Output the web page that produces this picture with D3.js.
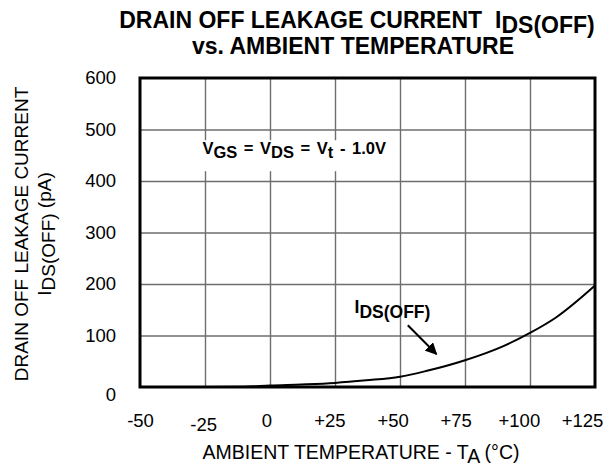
<!DOCTYPE html>
<html>
<head>
<meta charset="utf-8">
<script src="https://cdn.jsdelivr.net/npm/d3@7"></script>
<style>
body { margin: 0; background: #fff; }
text { font-family: "Liberation Sans", Arial, Helvetica, sans-serif; fill: #000; }
</style>
</head>
<body>
<svg id="chart" width="611" height="468"></svg>
<script>
// curve: temperature (°C) vs IDS(OFF) (pA)
var temps   = [-50, -25, -10, 0, 12, 25, 37, 50, 60, 75, 90, 100, 110, 125];
var leakage = [0, 0, 0.3, 3, 5, 8, 13, 20, 31, 52, 80, 105, 135, 197];

var xTicks = [-50, -25, 0, 25, 50, 75, 100, 125];
var xTickLabels = ["-50", "-25", "0", "+25", "+50", "+75", "+100", "+125"];
var yTicks = [0, 100, 200, 300, 400, 500, 600];

// annotation anchors, in data units
var arrowFrom = [53, 120];
var arrowTo = [64, 64];
var curveLabelAt = [32.5, 144];
var condLabelAt = [-26, 452];

var svg = d3.select("#chart");

var x = d3.scaleLinear().domain([-50, 125]).range([140, 595]);
var y = d3.scaleLinear().domain([0, 600]).range([387, 78]);
// the printed tick labels sit a bit tighter than the grid
var xLabel = d3.scaleLinear().domain([-50, 125]).range([140, 582]);

// grid
svg.append("g")
    .attr("transform", "translate(0,387)")
    .call(d3.axisBottom(x).tickValues(xTicks.slice(1, -1)).tickSize(-309).tickFormat(""))
    .call(function (g) {
        g.select(".domain").remove();
        g.selectAll("line").attr("stroke", "#6e6e6e").attr("stroke-width", 1.4);
    });

svg.append("g")
    .attr("transform", "translate(140,0)")
    .call(d3.axisLeft(y).tickValues(yTicks.slice(1, -1)).tickSize(-455).tickFormat(""))
    .call(function (g) {
        g.select(".domain").remove();
        g.selectAll("line").attr("stroke", "#6e6e6e").attr("stroke-width", 1.4);
    });

// tick labels
svg.append("g")
    .attr("transform", "translate(0,387)")
    .call(d3.axisBottom(xLabel).tickValues(xTicks).tickSize(0).tickPadding(27)
        .tickFormat(function (d, i) { return xTickLabels[i]; }))
    .call(function (g) {
        g.select(".domain").remove();
        g.selectAll("text").attr("font-size", 18.5).attr("fill", "#000")
            .attr("font-family", "Liberation Sans, Arial, sans-serif")
            .attr("dy", function (d) { return d === -25 ? "0.93em" : "0.71em"; });
    });

svg.append("g")
    .attr("transform", "translate(140,0)")
    .call(d3.axisLeft(y).tickValues(yTicks).tickSize(0).tickPadding(24))
    .call(function (g) {
        g.select(".domain").remove();
        g.selectAll("text").attr("font-size", 18.5).attr("fill", "#000")
            .attr("font-family", "Liberation Sans, Arial, sans-serif")
            .attr("dy", function (d) { return d === 0 ? "0.75em" : "0.32em"; });
    });

// white patch behind the condition text
svg.append("rect")
    .attr("x", x(condLabelAt[0]) - 1).attr("y", y(condLabelAt[1]) - 14)
    .attr("width", 191).attr("height", 31)
    .attr("fill", "#fff");

// curve
var line = d3.line()
    .x(function (d) { return x(d[0]); })
    .y(function (d) { return y(d[1]); })
    .curve(d3.curveMonotoneX);

svg.append("path")
    .datum(d3.zip(temps, leakage))
    .attr("d", line)
    .attr("fill", "none")
    .attr("stroke", "#000")
    .attr("stroke-width", 2);

// frame
svg.append("rect")
    .attr("x", x(-50)).attr("y", y(600))
    .attr("width", x(125) - x(-50)).attr("height", y(0) - y(600))
    .attr("fill", "none").attr("stroke", "#000").attr("stroke-width", 3);

// arrow
svg.append("defs").append("marker")
    .attr("id", "head")
    .attr("viewBox", "0 0 10 10")
    .attr("refX", 9).attr("refY", 5)
    .attr("markerWidth", 6).attr("markerHeight", 6)
    .attr("markerUnits", "strokeWidth")
    .attr("orient", "auto")
    .append("path").attr("d", "M0,0L10,5L0,10Z").attr("fill", "#000");

svg.append("line")
    .attr("x1", x(arrowFrom[0])).attr("y1", y(arrowFrom[1]))
    .attr("x2", x(arrowTo[0])).attr("y2", y(arrowTo[1]))
    .attr("stroke", "#000").attr("stroke-width", 2)
    .attr("marker-end", "url(#head)");

// curve label
var cl = svg.append("text")
    .attr("x", x(curveLabelAt[0])).attr("y", y(curveLabelAt[1]))
    .attr("font-size", 17.5).attr("font-weight", "bold");
cl.append("tspan").text("I");
cl.append("tspan").attr("dy", 5).text("DS(OFF)");

// condition label
var ct = svg.append("text")
    .attr("x", x(condLabelAt[0])).attr("y", y(condLabelAt[1]))
    .attr("font-size", 16.5).attr("font-weight", "bold")
    .attr("word-spacing", 2);
ct.append("tspan").text("V");
ct.append("tspan").attr("dy", 4).text("GS");
ct.append("tspan").attr("dy", -4).text(" = V");
ct.append("tspan").attr("dy", 4).text("DS");
ct.append("tspan").attr("dy", -4).text(" = V");
ct.append("tspan").attr("dy", 4).text("t");
ct.append("tspan").attr("dy", -4).text(" - 1.0V");

// title
var t1 = svg.append("text")
    .attr("x", 357).attr("y", 28)
    .attr("text-anchor", "middle")
    .attr("font-size", 23).attr("font-weight", "bold");
t1.append("tspan").text("DRAIN OFF LEAKAGE CURRENT");
t1.append("tspan").attr("dx", 13).text("I");
t1.append("tspan").attr("dy", 5).text("DS(OFF)");

svg.append("text")
    .attr("x", 353).attr("y", 54)
    .attr("text-anchor", "middle")
    .attr("font-size", 23).attr("font-weight", "bold")
    .text("vs. AMBIENT TEMPERATURE");

// x axis title
var xt = svg.append("text")
    .attr("x", 361).attr("y", 459)
    .attr("text-anchor", "middle")
    .attr("font-size", 19.5);
xt.append("tspan").text("AMBIENT TEMPERATURE - T");
xt.append("tspan").attr("dy", 4).text("A");
xt.append("tspan").attr("dy", -4).text(" (°C)");

// y axis title
var yt = svg.append("g").attr("transform", "translate(0,234) rotate(-90)");
yt.append("text")
    .attr("x", 0).attr("y", 28)
    .attr("text-anchor", "middle")
    .attr("font-size", 19)
    .text("DRAIN OFF LEAKAGE CURRENT");
var yt2 = yt.append("text")
    .attr("x", 0).attr("y", 51)
    .attr("text-anchor", "middle")
    .attr("font-size", 19);
yt2.append("tspan").text("I");
yt2.append("tspan").attr("dy", 4).text("DS(OFF)");
yt2.append("tspan").attr("dy", -4).text(" (pA)");
</script>
</body>
</html>
